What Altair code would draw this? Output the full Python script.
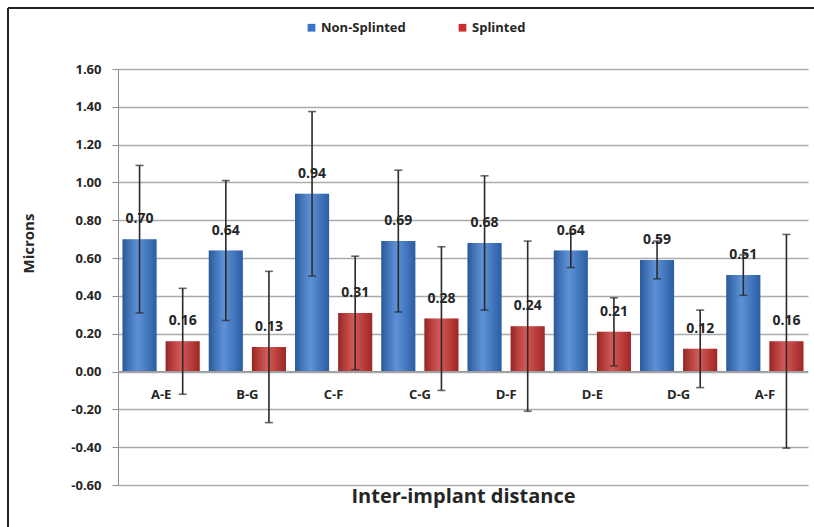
import altair as alt
import pandas as pd

categories = ["A-E", "B-G", "C-F", "C-G", "D-F", "D-E", "D-G", "A-F"]
series_names = ["Non-Splinted", "Splinted"]
non_splinted = [0.70, 0.64, 0.94, 0.69, 0.68, 0.64, 0.59, 0.51]
non_splinted_sd = [0.39, 0.37, 0.435, 0.375, 0.355, 0.09, 0.10, 0.107]
splinted = [0.16, 0.13, 0.31, 0.28, 0.24, 0.21, 0.12, 0.16]
splinted_sd = [0.28, 0.40, 0.30, 0.38, 0.45, 0.18, 0.205, 0.565]
y_ticks = [-0.6, -0.4, -0.2, 0.0, 0.2, 0.4, 0.6, 0.8, 1.0, 1.2, 1.4, 1.6]

rows = []
for name, vals, sds in [(series_names[0], non_splinted, non_splinted_sd),
                        (series_names[1], splinted, splinted_sd)]:
    for c, v, s in zip(categories, vals, sds):
        rows.append({"cat": c, "series": name, "value": v, "lo": v - s, "hi": v + s})
df = pd.DataFrame(rows)
cat_df = pd.DataFrame({"cat": categories})
one = pd.DataFrame({"k": [0]})

FONT = "Open Sans"
TXT = "#262626"
BLUE = "#3575cc"
RED = "#c8302d"

x_axis = alt.Axis(title="Inter-implant distance", labels=False, ticks=False,
                  domain=False, titleFontSize=20, titleFont=FONT,
                  titleFontWeight="bold", titleColor=TXT, titlePadding=1)
x_scale = alt.Scale(paddingInner=0, paddingOuter=0)
y_axis = alt.Axis(title="Microns", values=y_ticks,
                  labelExpr="replace(format(datum.value, '.2f'), '\u2212', '-')",
                  labelOverlap=False, tickCount=12,
                  grid=True, gridColor="#ababab", gridWidth=1.3,
                  domainColor="#8c8c8c", tickColor="#8c8c8c", tickSize=6,
                  labelPadding=11, labelFont=FONT, labelFontSize=13,
                  labelFontWeight="bold", labelColor=TXT,
                  titleFont=FONT, titleFontSize=15, titleFontWeight="bold",
                  titleColor=TXT, titleX=-82, titleY=174)
y_scale = alt.Scale(domain=[-0.6, 1.6], nice=False, zero=False)

x_enc = alt.X("cat:N", sort=categories, scale=x_scale, axis=x_axis)
xo_enc = alt.XOffset("series:N", sort=series_names,
                     scale=alt.Scale(paddingInner=0.21, paddingOuter=0.105))

base = alt.Chart(df).encode(x=x_enc, xOffset=xo_enc)

bars = base.mark_bar().encode(
    y=alt.Y("value:Q", scale=y_scale, axis=y_axis),
    color=alt.Color("series:N", sort=series_names,
                    scale=alt.Scale(domain=series_names, range=[BLUE, RED]),
                    legend=alt.Legend(orient="none", legendX=187, legendY=-48,
                                      direction="horizontal", title=None,
                                      symbolType="square", symbolSize=60,
                                      labelFont=FONT, labelFontSize=13,
                                      labelFontWeight="bold", labelColor=TXT,
                                      labelOffset=3,
                                      columnPadding=50, symbolStrokeWidth=0)),
)

gloss = base.mark_bar(
    color=alt.Gradient(
        gradient="linear", x1=0, x2=1, y1=0, y2=0,
        stops=[alt.GradientStop(color="rgba(0,0,0,0.25)", offset=0),
               alt.GradientStop(color="rgba(255,255,255,0.2)", offset=0.45),
               alt.GradientStop(color="rgba(0,0,0,0.2)", offset=1)])
).encode(y=alt.Y("value:Q", scale=y_scale, axis=y_axis))

err = base.mark_rule(color="#2a2a2a", strokeWidth=1.6).encode(
    y=alt.Y("lo:Q", scale=y_scale, axis=y_axis), y2="hi:Q")
cap_lo = base.mark_tick(color="#2a2a2a", size=8, thickness=1.6).encode(
    y=alt.Y("lo:Q", scale=y_scale, axis=y_axis))
cap_hi = base.mark_tick(color="#2a2a2a", size=8, thickness=1.6).encode(
    y=alt.Y("hi:Q", scale=y_scale, axis=y_axis))

labels = base.mark_text(font=FONT, fontSize=14, fontWeight="bold", color=TXT,
                        baseline="middle", dy=-20).encode(
    y=alt.Y("value:Q", scale=y_scale, axis=y_axis),
    text=alt.Text("value:Q", format=".2f"))

zero = alt.Chart(one).mark_rule(color="#9a9a9a", strokeWidth=1.3).encode(
    y=alt.datum(0, scale=y_scale, axis=y_axis))

cat_labels = alt.Chart(cat_df).mark_text(font=FONT, fontSize=13, fontWeight="bold",
                                         color=TXT, baseline="middle", dy=23).encode(
    x=alt.X("cat:N", sort=categories, scale=x_scale, axis=x_axis),
    y=alt.datum(0, scale=y_scale, axis=y_axis),
    text="cat:N")

frame_top = alt.Chart(one).mark_rule(color="#222222", strokeWidth=2).encode(
    x=alt.value(-110), x2=alt.value(700), y=alt.value(-61))
frame_left = alt.Chart(one).mark_rule(color="#222222", strokeWidth=2).encode(
    x=alt.value(-110), y=alt.value(-61), y2=alt.value(460))

chart = alt.layer(bars, gloss, zero, err, cap_lo, cap_hi, labels, cat_labels,
                  frame_top, frame_left).properties(
    width=690, height=416,
    autosize=alt.AutoSizeParams(type="none"),
    padding={"left": 118, "top": 69, "right": 6, "bottom": 42},
    background="white",
).configure_view(stroke=None).configure_axisY(labelOverlap=False)

chart.save("out.html", embed_options={"renderer": "svg", "actions": False})
